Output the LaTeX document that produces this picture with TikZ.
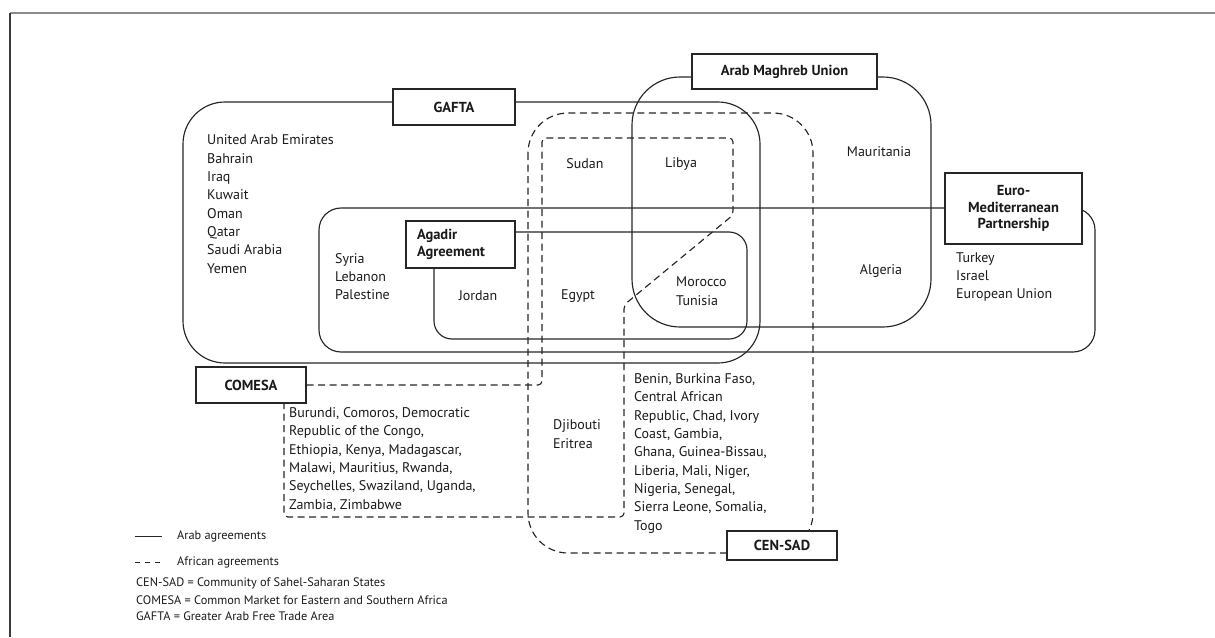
\documentclass[tikz,border=0pt]{standalone}
\usepackage{fontspec}
\setmainfont{PT Sans}
\usetikzlibrary{backgrounds}
\definecolor{ink}{HTML}{262626}
\definecolor{textink}{HTML}{1A1A1A}
\definecolor{framegray}{HTML}{8C8C8C}
\definecolor{frameleft}{HTML}{3A3A3A}
\begin{document}
\begin{tikzpicture}[x=1pt,y=-1pt,
  region/.style={draw=ink, line width=1.15pt},
  africa/.style={dash pattern=on 7pt off 4.5pt},
  labelbox/.style={draw=ink, fill=white, line width=1.15pt, text=textink,
    font=\fontsize{14.5}{16.5}\selectfont\bfseries, inner sep=0pt, align=center},
  country/.style={font=\fontsize{14}{18.3}\selectfont, align=left, inner sep=0pt, text=textink},
  legendtext/.style={font=\fontsize{12.3}{14}\selectfont, inner sep=0pt, anchor=west, text=textink}]
\useasboundingbox (0,0) rectangle (1215,637);

% label boxes
\node[labelbox, minimum width=122pt, minimum height=36pt] (gafta) at (454,107) {GAFTA};
\node[labelbox, minimum width=185pt, minimum height=35pt] (amu) at (784.5,71.5) {Arab Maghreb Union};
\node[labelbox, minimum width=137pt, minimum height=71pt] (euromed) at (1013.5,208.5) {Euro-\\Mediterranean\\Partnership};
\node[labelbox, minimum height=47pt, align=left, text width=87pt, inner xsep=11pt] (agadir) at (460.5,244.5) {Agadir\\Agreement};
\node[labelbox, minimum width=110pt, minimum height=36pt] (comesa) at (251,385) {COMESA};
\node[labelbox, minimum width=110pt, minimum height=29pt] (censad) at (782,545.5) {CEN-SAD};

\begin{pgfonlayer}{background}
  % frame
  \coordinate (fa) at (10,13);
  \coordinate (fb) at (1215,13);
  \coordinate (fc) at (10,637);
  \draw[framegray, line width=1.8pt] (fa) -- (fb);
  \draw[frameleft, line width=1.4pt] (fa) -- (fc);
  % Arab agreements
  \draw[region, rounded corners=42pt] (183,102) rectangle (760,363);
  \draw[region, rounded corners=22pt] (319,208) rectangle (1095,352);
  \draw[region, rounded corners=18pt] (434,232) rectangle (747,339);
  \draw[region, rounded corners=48pt] (632,77) rectangle (931,327);
  % African agreements
  \draw[region, africa, rounded corners=40pt] (528,113) rectangle (813,553);
  \draw[region, africa, rounded corners=4pt] (comesa.east) -- (542,385) -- (542,138) -- (733,138)
     -- (733,215) -- (624,305) -- (624,517) -- (284,517) -- (284,0 |- comesa.south);
\end{pgfonlayer}

% country lists
\node[country, anchor=north west] (gulf) at (207,134.8) {United Arab Emirates\\Bahrain\\Iraq\\Kuwait\\Oman\\Qatar\\Saudi Arabia\\Yemen};
\node[country, anchor=north west] (levant) at (335,253.2) {Syria\\Lebanon\\Palestine};
\node[country] (jordan) at (478,296) {Jordan};
\node[country] (sudan) at (585,164) {Sudan};
\node[country] (libya) at (681,164) {Libya};
\node[country] (mauritania) at (879,152) {Mauritania};
\node[country] (algeria) at (881,271) {Algeria};
\node[country] (egypt) at (578,296) {Egypt};
\node[country, anchor=north west] (maghreb) at (676,276.8) {Morocco\\Tunisia};
\node[country, anchor=north west] (europe) at (956,252.2) {Turkey\\Israel\\European Union};
\node[country, anchor=north west] (horn) at (553,419.8) {Djibouti\\Eritrea};
\node[country, anchor=north west] (comesalist) at (289,407.5) {Burundi, Comoros, Democratic\\Republic of the Congo,\\Ethiopia, Kenya, Madagascar,\\Malawi, Mauritius, Rwanda,\\Seychelles, Swaziland, Uganda,\\Zambia, Zimbabwe};
\node[country, anchor=north west] (censadlist) at (634,373.5) {Benin, Burkina Faso,\\Central African\\Republic, Chad, Ivory\\Coast, Gambia,\\Ghana, Guinea-Bissau,\\Liberia, Mali, Niger,\\Nigeria, Senegal,\\Sierra Leone, Somalia,\\Togo};

% legend
\coordinate (la) at (135,536);
\coordinate (lb) at (162,536);
\coordinate (lc) at (135,562);
\coordinate (ld) at (162,562);
\draw[ink, line width=1pt] (la) -- (lb);
\draw[ink, line width=1pt, dash pattern=on 5pt off 5pt] (lc) -- (ld);
\node[legendtext] (leg1) at (177,536) {Arab agreements};
\node[legendtext] (leg2) at (177,562) {African agreements};
\node[legendtext] (gl1) at (136,583) {CEN-SAD = Community of Sahel-Saharan States};
\node[legendtext] (gl2) at (136,600.5) {COMESA = Common Market for Eastern and Southern Africa};
\node[legendtext] (gl3) at (136,616.5) {GAFTA = Greater Arab Free Trade Area};
\end{tikzpicture}
\end{document}
